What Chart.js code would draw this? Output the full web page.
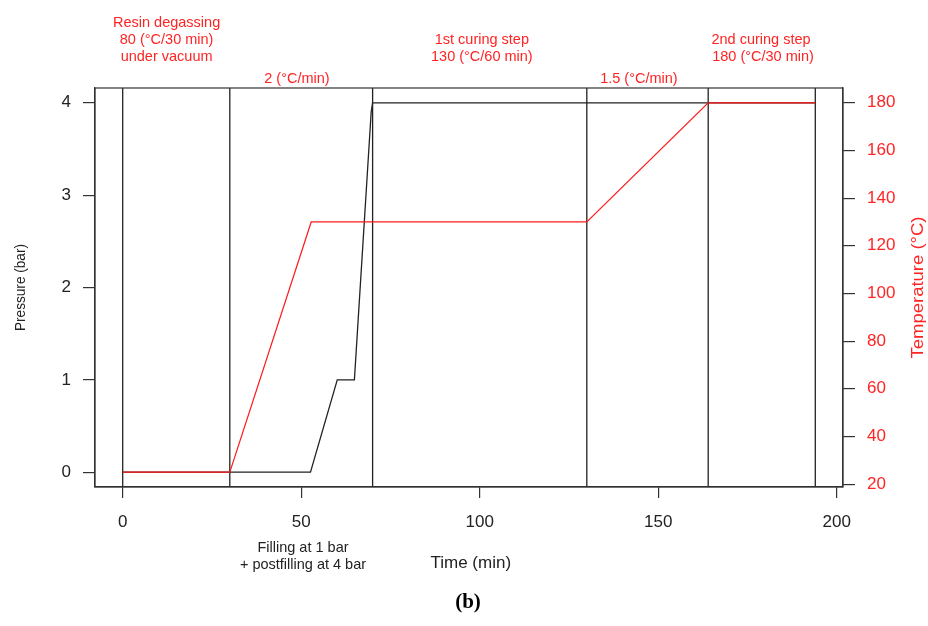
<!DOCTYPE html>
<html><head><meta charset="utf-8">
<script src="https://cdn.jsdelivr.net/npm/chart.js@4/dist/chart.umd.min.js"></script>
<style>html,body{margin:0;padding:0;background:#fff}#wrap{width:928px;height:626px;position:relative}</style>
</head><body><div id="wrap"><canvas id="c" width="928" height="626"></canvas></div>
<script>
// ---- data ----
const timeTemp = [0, 30, 52.8, 130, 164, 194];
const temperature = [25, 25, 130, 130, 180, 180];
const timePressure = [0, 30, 52.6, 60.1, 64.9, 69.6, 70, 194];
const pressure = [0, 0, 0, 1, 1, 3.9, 4, 4];
const phaseBoundaries = [0, 30, 70, 130, 164, 194];
const xTicks = [0, 50, 100, 150, 200];
const pressureTicks = [0, 1, 2, 3, 4];
const temperatureTicks = [20, 40, 60, 80, 100, 120, 140, 160, 180];
const topNotes = [
  ["Resin degassing", "80 (°C/30 min)", "under vacuum"],
  ["2 (°C/min)"],
  ["1st curing step", "130 (°C/60 min)"],
  ["1.5 (°C/min)"],
  ["2nd curing step", " 180 (°C/30 min)"]
];
const bottomNote = ["Filling at 1 bar", "+ postfilling at 4 bar"];
const xTitle = "Time (min)";
const pressureTitle = "Pressure (bar)";
const temperatureTitle = "Temperature (°C)";
const panelLabel = "(b)";

// ---- layout / style ----
const RED = '#ff2424';
const INK = '#222';
const LINE = '#333';
const FONT = '"Liberation Sans", Arial, sans-serif';
Chart.defaults.font.family = FONT;

// R-style 4% range padding
function padRange(vals) { const lo = Math.min(...vals), hi = Math.max(...vals), d = (hi - lo) * 0.04; return [lo - d, hi + d]; }
const [xMin, xMax] = padRange(timeTemp);
const [pMin, pMax] = padRange(pressure);
const [tMin, tMax] = padRange(temperature);

const topNoteLayout = [
  { t: 12.3, y: 22.5 }, { t: 48.8, y: 79 }, { t: 100.6, y: 40 }, { t: 144.6, y: 79 }, { t: 178.8, y: 40 }
];

const phaseData = [];
phaseBoundaries.forEach(t => { phaseData.push({ x: t, y: pMin }, { x: t, y: pMax }, { x: t, y: null }); });

const notesPlugin = {
  id: 'notes',
  afterDraw(chart) {
    const { ctx, chartArea: a, scales: { x } } = chart;
    ctx.save();
    ctx.strokeStyle = LINE; ctx.lineWidth = 1.2;
    ctx.strokeRect(a.left, a.top, a.right - a.left, a.bottom - a.top);
    ctx.textAlign = 'center'; ctx.textBaseline = 'middle';
    // top annotations
    ctx.fillStyle = RED; ctx.font = '14.5px ' + FONT;
    topNoteLayout.forEach((L, i) => {
      topNotes[i].forEach((line, j) => ctx.fillText(line, x.getPixelForValue(L.t), L.y + j * 17));
    });
    // bottom annotation
    ctx.fillStyle = INK; ctx.font = '14.5px ' + FONT;
    bottomNote.forEach((line, j) => ctx.fillText(line, x.getPixelForValue(50.5), 548 + j * 17));
    // x title
    ctx.font = '17px ' + FONT;
    ctx.fillText(xTitle, x.getPixelForValue(97.5), 563);
    // rotated titles
    function rotText(txt, cx, cy, color, size, len) {
      ctx.save();
      ctx.translate(cx, cy); ctx.rotate(-Math.PI / 2);
      ctx.font = size + 'px ' + FONT; ctx.fillStyle = color;
      const w = ctx.measureText(txt).width;
      ctx.scale(len / w, 1);
      ctx.fillText(txt, 0, 0);
      ctx.restore();
    }
    rotText(pressureTitle, 20.5, (a.top + a.bottom) / 2, INK, 15.5, 87);
    rotText(temperatureTitle, 918.5, (a.top + a.bottom) / 2, RED, 17, 142);
    // panel label
    ctx.fillStyle = '#000'; ctx.font = 'bold 21px "Liberation Serif", "Times New Roman", serif';
    ctx.fillText(panelLabel, 468, 603);
    ctx.restore();
  }
};

const tickGrid = { drawOnChartArea: false, drawTicks: true, tickLength: 12, color: LINE, lineWidth: 1.2 };

new Chart(document.getElementById('c').getContext('2d'), {
  type: 'line',
  data: {
    datasets: [
      { label: 'Temperature', data: timeTemp.map((t, i) => ({ x: t, y: temperature[i] })), yAxisID: 'yT',
        borderColor: '#ff1a1a', borderWidth: 1.2, pointRadius: 0, tension: 0, order: 0 },
      { label: 'Pressure', data: timePressure.map((t, i) => ({ x: t, y: pressure[i] })), yAxisID: 'yP',
        borderColor: INK, borderWidth: 1.3, pointRadius: 0, tension: 0, order: 1 },
      { label: 'Phases', data: phaseData, yAxisID: 'yP', borderColor: INK, borderWidth: 1.3,
        pointRadius: 0, spanGaps: false, order: 2 }
    ]
  },
  options: {
    responsive: false, animation: false, events: [],
    layout: { padding: { top: 88, left: 0, right: 0, bottom: 0 } },
    plugins: { legend: { display: false }, tooltip: { enabled: false } },
    scales: {
      x: {
        type: 'linear', position: 'bottom', min: xMin, max: xMax,
        afterBuildTicks: s => { s.ticks = xTicks.map(v => ({ value: v })); },
        afterFit: s => { s.height = 626 - 487; },
        ticks: { color: INK, font: { size: 17 }, padding: 14, maxRotation: 0, autoSkip: false },
        grid: { ...tickGrid, tickLength: 11 },
        border: { display: true, color: LINE, width: 1.2 }
      },
      yP: {
        type: 'linear', position: 'left', min: pMin, max: pMax,
        afterBuildTicks: s => { s.ticks = pressureTicks.map(v => ({ value: v })); },
        afterFit: s => { s.width = 95; },
        ticks: { color: INK, font: { size: 17 }, padding: 12 },
        grid: tickGrid,
        border: { display: true, color: LINE, width: 1.2 }
      },
      yT: {
        type: 'linear', position: 'right', min: tMin, max: tMax,
        afterBuildTicks: s => { s.ticks = temperatureTicks.map(v => ({ value: v })); },
        afterFit: s => { s.width = 928 - 843; },
        ticks: { color: RED, font: { size: 17 }, padding: 12 },
        grid: tickGrid,
        border: { display: true, color: LINE, width: 1.2 }
      }
    }
  },
  plugins: [notesPlugin]
});
</script>
</body></html>
